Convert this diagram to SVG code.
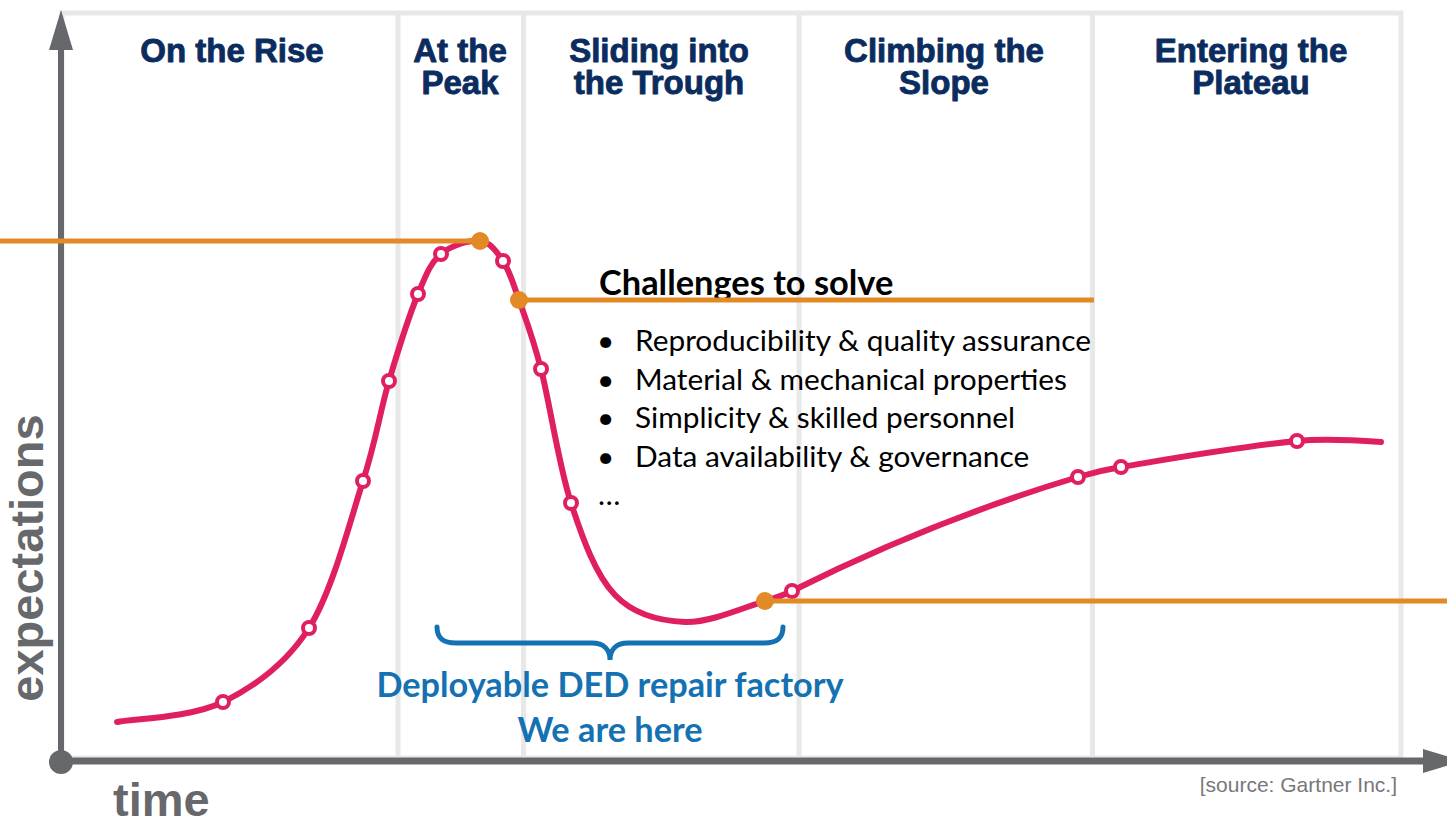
<svg xmlns="http://www.w3.org/2000/svg" width="1447" height="820" viewBox="0 0 1447 820">
  <style>
    .phase { font-family: "Liberation Sans", Arial, sans-serif; font-weight: bold; font-size: 33px; fill: #0b2c5e; stroke: #0b2c5e; stroke-width: 0.9px; stroke-linejoin: round; text-anchor: middle; }
    .axis-label { font-family: "Liberation Sans", Arial, sans-serif; font-weight: bold; font-size: 47px; fill: #67686c; }
    .divider { stroke: #e8e8e8; stroke-width: 5; }
    .hype { fill: none; stroke: #e01f62; stroke-width: 6; stroke-linecap: round; }
    .pt { fill: #ffffff; stroke: #e01f62; stroke-width: 4; }
    .level { stroke: #e28a26; stroke-width: 5; }
    .dot { fill: #e28a26; }
    .body { font-family: Lato, "Open Sans", sans-serif; font-size: 29.8px; fill: #000000; }
    .head { font-family: Lato, "Open Sans", sans-serif; font-size: 34.4px; font-weight: bold; fill: #000000; }
    .blue { font-family: Lato, "Open Sans", sans-serif; font-size: 34.3px; font-weight: bold; fill: #1471b2; text-anchor: middle; }
  </style>

  <rect width="1447" height="820" fill="#ffffff"/>

  <!-- phase columns -->
  <g id="phases">
    <rect x="62" y="13" width="1339" height="745" fill="#ffffff" stroke="#e8e8e8" stroke-width="5"/>
    <line class="divider" x1="398" y1="13" x2="398" y2="758"/>
    <line class="divider" x1="523.5" y1="13" x2="523.5" y2="758"/>
    <line class="divider" x1="799" y1="13" x2="799" y2="758"/>
    <line class="divider" x1="1092.5" y1="13" x2="1092.5" y2="758"/>
  </g>

  <g id="phase-rise"><text class="phase" x="232" y="62">On the Rise</text></g>
  <g id="phase-peak"><text class="phase" x="460" y="62">At the</text><text class="phase" x="460" y="94">Peak</text></g>
  <g id="phase-trough"><text class="phase" x="659" y="62">Sliding into</text><text class="phase" x="659" y="94">the Trough</text></g>
  <g id="phase-slope"><text class="phase" x="944" y="62">Climbing the</text><text class="phase" x="944" y="94">Slope</text></g>
  <g id="phase-plateau"><text class="phase" x="1251" y="62">Entering the</text><text class="phase" x="1251" y="94">Plateau</text></g>

  <!-- axes -->
  <g id="axes" fill="#67686c" stroke="#67686c">
    <line x1="61" y1="40" x2="61" y2="762" stroke-width="6"/>
    <polygon points="61,10 49,50 73,50" stroke="none"/>
    <line x1="61" y1="761" x2="1430" y2="761" stroke-width="7"/>
    <polygon points="1463,761 1423,749 1423,773" stroke="none"/>
    <circle cx="61" cy="762" r="12" stroke="none"/>
  </g>
  <text class="axis-label" transform="translate(43,558) rotate(-90)" text-anchor="middle">expectations</text>
  <text class="axis-label" x="113" y="816">time</text>
  <text x="1397" y="792" text-anchor="end" font-family="Liberation Sans, Arial, sans-serif" font-size="21" fill="#77787c">[source: Gartner Inc.]</text>

  <!-- hype cycle curve -->
  <g id="curve">
    <path class="hype" d="M117,722 C134.7,718.7 191,717.7 223,702 C255,686.3 285.7,664.8 309,628 C332.3,591.2 349.7,522.2 363,481 C376.3,439.8 379.8,412.2 389,381 C398.2,349.8 409.3,315.2 418,294 C426.7,272.8 430.7,262.8 441,254 C451.3,245.2 469.7,239.8 480,241 C490.3,242.2 496.5,251.2 503,261 C509.5,270.8 512.7,282 519,300 C525.3,318 532.3,335.2 541,369 C549.7,402.8 558.7,465.3 571,503 C583.3,540.7 596,575.2 615,595 C634,614.8 660,621 685,622 C710,623 747.2,606.2 765,601 C774.3,598.3 784,595 792,591 C887,543.5 983,505.5 1078,477 C1091.4,473 1106.5,469.4 1121,467 C1179.2,457.4 1238.3,446.9 1297,441 C1324.9,438.2 1353,440 1381,442"/>
    <circle class="pt" cx="223" cy="702" r="6"/>
    <circle class="pt" cx="309" cy="628" r="6"/>
    <circle class="pt" cx="363" cy="481" r="6"/>
    <circle class="pt" cx="389" cy="381" r="6"/>
    <circle class="pt" cx="418" cy="294" r="6"/>
    <circle class="pt" cx="441" cy="254" r="6"/>
    <circle class="pt" cx="503" cy="261" r="6"/>
    <circle class="pt" cx="541" cy="369" r="6"/>
    <circle class="pt" cx="571" cy="503" r="6"/>
    <circle class="pt" cx="792" cy="591" r="6"/>
    <circle class="pt" cx="1078" cy="477" r="6"/>
    <circle class="pt" cx="1121" cy="467" r="6"/>
    <circle class="pt" cx="1297" cy="441" r="6"/>
  </g>

  <!-- challenges list -->
  <g id="challenges">
    <text class="head" x="599" y="295">Challenges to solve</text>
    <text class="body" x="597" y="351">•</text>
    <text class="body" x="635" y="351">Reproducibility &amp; quality assurance</text>
    <text class="body" x="597" y="390">•</text>
    <text class="body" x="635" y="390">Material &amp; mechanical properties</text>
    <text class="body" x="597" y="428">•</text>
    <text class="body" x="635" y="428">Simplicity &amp; skilled personnel</text>
    <text class="body" x="597" y="467">•</text>
    <text class="body" x="635" y="467">Data availability &amp; governance</text>
    <text class="body" x="598" y="505">…</text>
  </g>

  <!-- expectation levels -->
  <g id="levels">
    <line class="level" x1="0" y1="241" x2="480" y2="241"/>
    <circle class="dot" cx="480" cy="241" r="9"/>
    <line class="level" x1="519" y1="300" x2="1094" y2="300"/>
    <circle class="dot" cx="519" cy="300" r="9"/>
    <line class="level" x1="765" y1="601" x2="1447" y2="601"/>
    <circle class="dot" cx="765" cy="601" r="9"/>
  </g>

  <!-- current position -->
  <g id="position">
    <path d="M437,627 C437,638 443,643 456,643 L592,643 C604,643 610,650 610,660 C610,650 616,643 628,643 L764,643 C777,643 783,638 783,627" fill="none" stroke="#1471b2" stroke-width="5" stroke-linecap="round"/>
    <text class="blue" x="610" y="697">Deployable DED repair factory</text>
    <text class="blue" x="610" y="742">We are here</text>
  </g>
</svg>
